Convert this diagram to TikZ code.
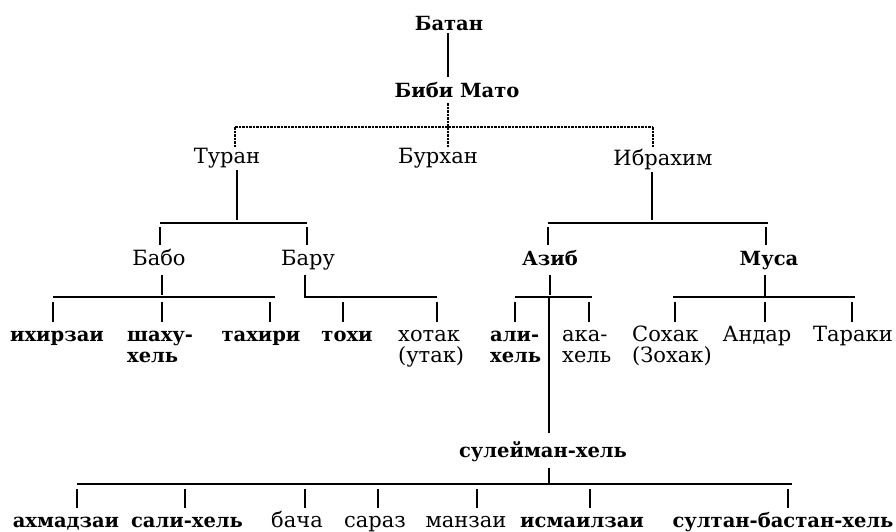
\documentclass[tikz,border=0pt]{standalone}
\usepackage{fontspec}
\setmainfont{DejaVu Serif}
\begin{document}
\begin{tikzpicture}[x=1pt,y=-1pt,
  every node/.style={inner sep=0pt, font=\fontsize{21}{21}\selectfont},
  nb/.style={font=\fontsize{19.5}{21}\selectfont\bfseries},
  tl/.style={line width=1.5pt},
  dl/.style={line width=1.5pt, dash pattern=on 2.5pt off 1pt}]
\useasboundingbox (0,0) rectangle (896,531);
% names
\node[nb, anchor=base] (batan) at (449,30) {Батан};
\node[nb, anchor=base] (bibi) at (457,97) {Биби Мато};
\node[anchor=base] (turan) at (227,163) {Туран};
\node[anchor=base] (burhan) at (438,163) {Бурхан};
\node[anchor=base] (ibrahim) at (663,165) {Ибрахим};
\node[anchor=base] (babo) at (159,265) {Бабо};
\node[anchor=base] (baru) at (308,265) {Бару};
\node[nb, anchor=base] (azib) at (550,265) {Азиб};
\node[nb, anchor=base] (musa) at (769,265) {Муса};
\node[nb, anchor=base] (ihirzai) at (57,341) {ихирзаи};
\node[nb, anchor=base west, align=left] (shahu) at (127,362) {шаху-\\хель};
\node[nb, anchor=base] (tahiri) at (261,341) {тахири};
\node[nb, anchor=base] (tohi) at (347,341) {тохи};
\node[anchor=base west, align=left] (hotak) at (398,362) {хотак\\(утак)};
\node[nb, anchor=base west, align=left] (ali) at (490,362) {али-\\хель};
\node[anchor=base west, align=left] (aka) at (562,362) {ака-\\хель};
\node[anchor=base west, align=left] (sohak) at (632,362) {Сохак\\(Зохак)};
\node[anchor=base] (andar) at (757,341) {Андар};
\node[anchor=base] (taraki) at (853,341) {Тараки};
\node[nb, anchor=base] (sul) at (543,457) {сулейман-хель};
\node[nb, anchor=base] (ahmad) at (66,527) {ахмадзаи};
\node[nb, anchor=base] (sali) at (187,527) {сали-хель};
\node[anchor=base] (bacha) at (297,527) {бача};
\node[anchor=base] (saraz) at (375,527) {сараз};
\node[anchor=base] (manzai) at (466,527) {манзаи};
\node[nb, anchor=base] (ismail) at (582,527) {исмаилзаи};
\node[nb, anchor=base] (sultan) at (783,527) {султан-бастан-хель};
% connectors
\draw[tl] (448,33) -- (448,77);
\draw[dl] (448,103) -- (448,127);
\draw[dl] (235,127) -- (653,127);
\draw[dl] (235,127) -- (235,148);
\draw[dl] (448,127) -- (448,148);
\draw[dl] (653,127) -- (653,148);
% Turan
\draw[tl] (237,170) -- (237,220);
\draw[tl] (160,223) -- (307,223);
\draw[tl] (160,227) -- (160,245);
\draw[tl] (307,227) -- (307,245);
% Ibrahim
\draw[tl] (652,172) -- (652,220);
\draw[tl] (548,223) -- (768,223);
\draw[tl] (548,227) -- (548,245);
\draw[tl] (766,227) -- (766,245);
% Babo
\draw[tl] (162,275) -- (162,295);
\draw[tl] (53,297) -- (275,297);
\foreach \x in {53,162,270} \draw[tl] (\x,302) -- (\x,322);
% Baru
\draw[tl] (305,275) -- (305,297) -- (437,297);
\foreach \x in {343,437} \draw[tl] (\x,302) -- (\x,322);
% Azib
\draw[tl] (550,275) -- (550,295);
\draw[tl] (515,297) -- (592,297);
\foreach \x in {515,589} \draw[tl] (\x,302) -- (\x,322);
\draw[tl] (549,297) -- (549,433);
% Musa
\draw[tl] (765,275) -- (765,297);
\draw[tl] (673,297) -- (855,297);
\foreach \x in {675,765,852} \draw[tl] (\x,302) -- (\x,322);
% suleiman
\draw[tl] (549,468) -- (549,484);
\draw[tl] (77,484) -- (792,484);
\foreach \x in {77,185,305,378,477,590,788} \draw[tl] (\x,489) -- (\x,508);
\end{tikzpicture}
\end{document}
